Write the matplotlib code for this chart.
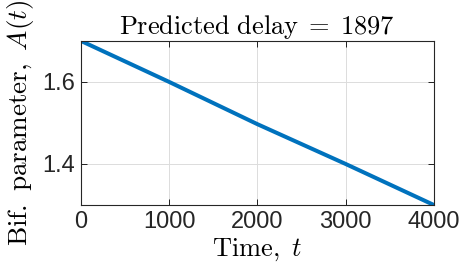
import matplotlib
matplotlib.use('Agg')
import matplotlib.pyplot as plt

plt.rcParams['mathtext.fontset'] = 'cm'
plt.rcParams['font.family'] = ['Liberation Sans', 'DejaVu Sans']

tiempo = [0, 1000, 2000, 3000, 4000]
parametro = [1.7, 1.6, 1.497, 1.4, 1.3]
xticks = [0, 1000, 2000, 3000, 4000]
yticks = [1.4, 1.6]

fig = plt.figure(figsize=(4.65, 2.69), dpi=100)
ax = fig.add_axes([0.174, 0.238, 0.759, 0.610])
ax.plot(tiempo, parametro, color='#0072BD', linewidth=2.9, solid_capstyle='round')

ax.set_xlim(0, 4000)
ax.set_ylim(1.3, 1.7)
ax.set_xticks(xticks)
ax.set_yticks(yticks)
ax.tick_params(direction='in', top=True, right=True, labelsize=17, length=4, width=0.6,
               pad=4, labelcolor='#262626')
ax.grid(color='#dcdcdc', linewidth=0.7)
for s in ax.spines.values():
    s.set_linewidth(0.8)
    s.set_color('#262626')

ax.set_title(r'$\mathrm{Predicted\ delay}\;=\;1897$', fontsize=19, pad=5)
ax.set_xlabel(r'$\mathrm{Time,}\ t$', fontsize=19, labelpad=3)
ax.set_ylabel(r'$\mathrm{Bif.\ parameter,}\ A(t)$', fontsize=19.5, labelpad=5)

plt.savefig('out.png', dpi=100)
plt.close()
